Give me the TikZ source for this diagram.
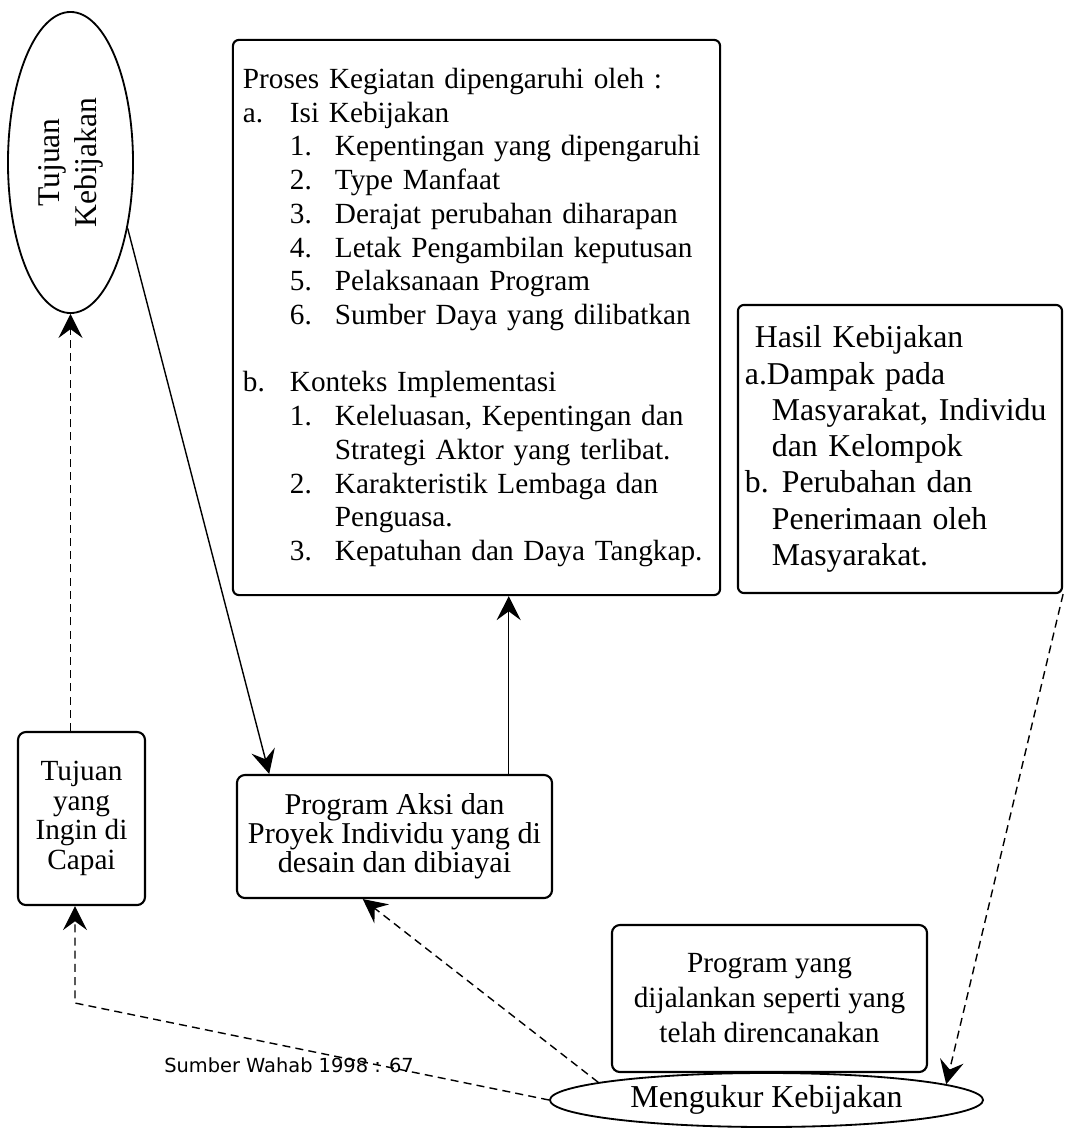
\documentclass[tikz,border=0pt]{standalone}
\usepackage{fontspec}
\usepackage{graphicx}
\usepackage{tikz}
\usetikzlibrary{shapes.geometric,arrows.meta,positioning,calc}
\setmainfont{Liberation Serif}
\newfontfamily\srcfont{DejaVu Sans}
\newcommand{\lvla}[1]{\makebox[1.175cm][l]{#1}}
\newcommand{\lvlb}[1]{\hspace*{1.175cm}\makebox[1.125cm][l]{#1}}

\begin{document}
\begin{tikzpicture}[x=0.025cm, y=-0.025cm,
  goalnode/.style={draw, ellipse, line width=1.3pt, inner sep=1pt},
  listbox/.style={draw, rectangle, rounded corners=1.5mm, line width=1.5pt, align=left, inner ysep=0pt},
  action/.style={draw, rectangle, rounded corners=2mm, line width=1.5pt, align=center, inner sep=1pt},
  flow/.style={-{Stealth[length=6mm, width=6mm, inset=2.2mm]}, line width=1pt},
  dashflow/.style={flow, dash pattern=on 2mm off 1.3mm}
]
\useasboundingbox (0,0) rectangle (1067,1138);

\node[goalnode, minimum width=3.125cm, minimum height=7.525cm, font=\fontsize{22.5}{26}\selectfont] (tk) at (70.5,162.5)
  {\rotatebox{90}{\begin{tabular}{@{}c@{}}Tujuan\\Kebijakan\end{tabular}}};
\node[listbox, text width=11.675cm, inner xsep=0.25cm, minimum height=13.875cm, font=\fontsize{20.8}{24}\selectfont] (proses) at (476.5,317.5) {%
Proses Kegiatan dipengaruhi oleh :\\
\lvla{a.}Isi Kebijakan\\
\lvlb{1.}Kepentingan yang dipengaruhi\\
\lvlb{2.}Type Manfaat\\
\lvlb{3.}Derajat perubahan diharapan\\
\lvlb{4.}Letak Pengambilan keputusan\\
\lvlb{5.}Pelaksanaan Program\\
\lvlb{6.}Sumber Daya yang dilibatkan\\[0.84cm]
\lvla{b.}Konteks Implementasi\\
\lvlb{1.}Keleluasan, Kepentingan dan\\
\hspace*{2.3cm}Strategi Aktor yang terlibat.\\
\lvlb{2.}Karakteristik Lembaga dan\\
\hspace*{2.3cm}Penguasa.\\
\lvlb{3.}Kepatuhan dan Daya Tangkap.\\[0.5cm]};
\node[listbox, text width=7.75cm, inner xsep=0.175cm, minimum height=7.2cm, font=\fontsize{22.6}{25.8}\selectfont] (hasil) at (900,449) {%
\hspace*{0.25cm}Hasil Kebijakan\\
\makebox[0.55cm][l]{a.}Dampak pada\\
\hspace*{0.675cm}Masyarakat, Individu\\
\hspace*{0.675cm}dan Kelompok\\
\makebox[0.925cm][l]{b.}Perubahan dan\\
\hspace*{0.675cm}Penerimaan oleh\\
\hspace*{0.675cm}Masyarakat.};
\node[action, minimum width=3.175cm, minimum height=4.325cm, font=\fontsize{20.8}{21}\selectfont] (tb) at (81.5,818.5)
  {Tujuan\\yang\\Ingin di\\Capai};
\node[action, minimum width=7.875cm, minimum height=3.075cm, font=\fontsize{21.5}{20.8}\selectfont] (pa) at (394.5,836.5)
  {Program Aksi dan\\Proyek Individu yang di\\desain dan dibiayai};
\node[action, minimum width=7.875cm, minimum height=3.675cm, font=\fontsize{20.8}{24.9}\selectfont] (py) at (769.5,998.5)
  {Program yang\\dijalankan seperti yang\\telah direncanakan};
\node[goalnode, fill=white, minimum width=10.825cm, minimum height=1.35cm, font=\fontsize{22.7}{26}\selectfont] (ukur) at (766.5,1100)
  {Mengukur Kebijakan};
\node[anchor=base, font=\srcfont\fontsize{13.8}{16}\selectfont, inner sep=0pt] (src) at (289,1072) {Sumber Wahab 1998 : 67};
\coordinate (bend) at (75,1003);

% Connections
\draw[dashflow] (tb.north -| tk.south) -- (tk.south);
\draw[flow] (tk.-49) -- ($(pa.north west)!0.105!(pa.north east)$);
\draw[flow] ($(pa.north west)!0.86!(pa.north east)$) coordinate (up) -- (up |- proses.south);
\draw[dashflow] (hasil.south east) -- (ukur.5);
\draw[dashflow] (ukur.174) -- ($(pa.south west)!0.4!(pa.south east)$);
\draw[dashflow] (ukur.west) -- (bend) -- (bend |- tb.south);

\end{tikzpicture}
\end{document}
